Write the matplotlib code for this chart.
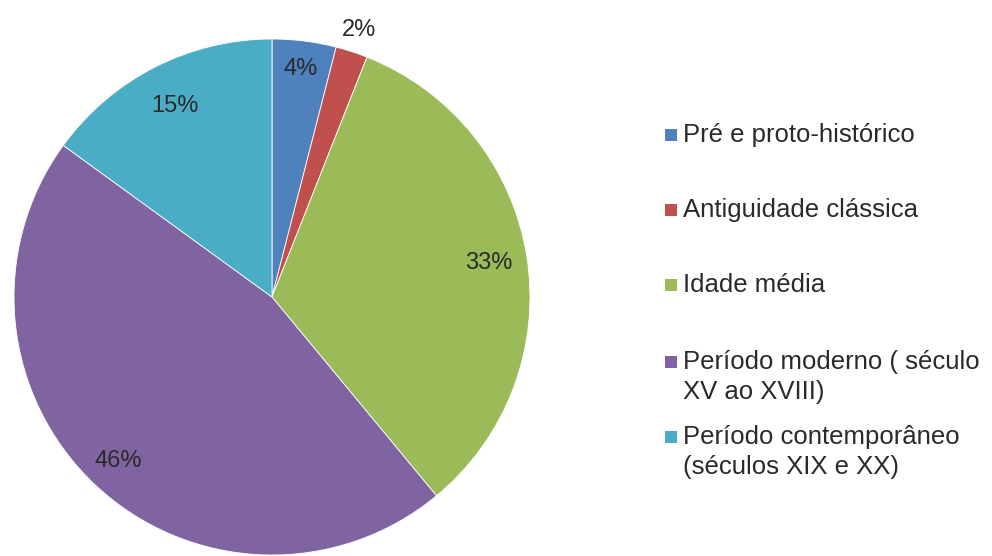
import matplotlib.pyplot as plt
from matplotlib.patches import Rectangle
import numpy as np

plt.rcParams['font.family'] = ['Liberation Sans', 'DejaVu Sans']

# Dados
categorias = [
    "Pré e proto-histórico",
    "Antiguidade clássica",
    "Idade média",
    "Período moderno ( século\nXV ao XVIII)",
    "Período contemporâneo\n(séculos XIX e XX)",
]
valores = [4, 2, 33, 46, 15]
cores = ["#4F81BD", "#C0504D", "#9BBB59", "#8064A2", "#4BACC6"]
dist_rotulos = [0.89, 1.09, 0.85, 0.87, 0.83]

W, H = 992, 556
fig = plt.figure(figsize=(W / 100, H / 100), dpi=100)

# eixo do gráfico: centro (272, 297), raio 258 px
cx, cy, r = 272, 297, 258
ax = fig.add_axes([(cx - r) / W, (H - cy - r) / H, 2 * r / W, 2 * r / H])
wedges, _ = ax.pie(valores, colors=cores, startangle=90, counterclock=False,
                   radius=1.0, wedgeprops=dict(edgecolor="white", linewidth=0.6))
ax.set_xlim(-1, 1)
ax.set_ylim(-1, 1)
ax.set_aspect("equal")
ax.axis("off")

# rótulos de percentagem
for w, v, d in zip(wedges, valores, dist_rotulos):
    ang = np.deg2rad((w.theta1 + w.theta2) / 2)
    ax.text(d * np.cos(ang), d * np.sin(ang), f"{v}%", ha="center", va="center",
            fontsize=17, color="#2a2a2a")

# legenda manual
leg_y = [135, 210, 285, 362, 437]
for cat, cor, y in zip(categorias, cores, leg_y):
    fig.patches.append(Rectangle((665 / W, 1 - (y + 6) / H), 12 / W, 12 / H,
                                 transform=fig.transFigure, facecolor=cor,
                                 edgecolor="none"))
    for i, linha in enumerate(cat.split("\n")):
        fig.text(683 / W, 1 - (y + i * 30) / H, linha, ha="left", va="center",
                 fontsize=18.5, color="#2a2a2a")

fig.savefig("out.png", dpi=100)
